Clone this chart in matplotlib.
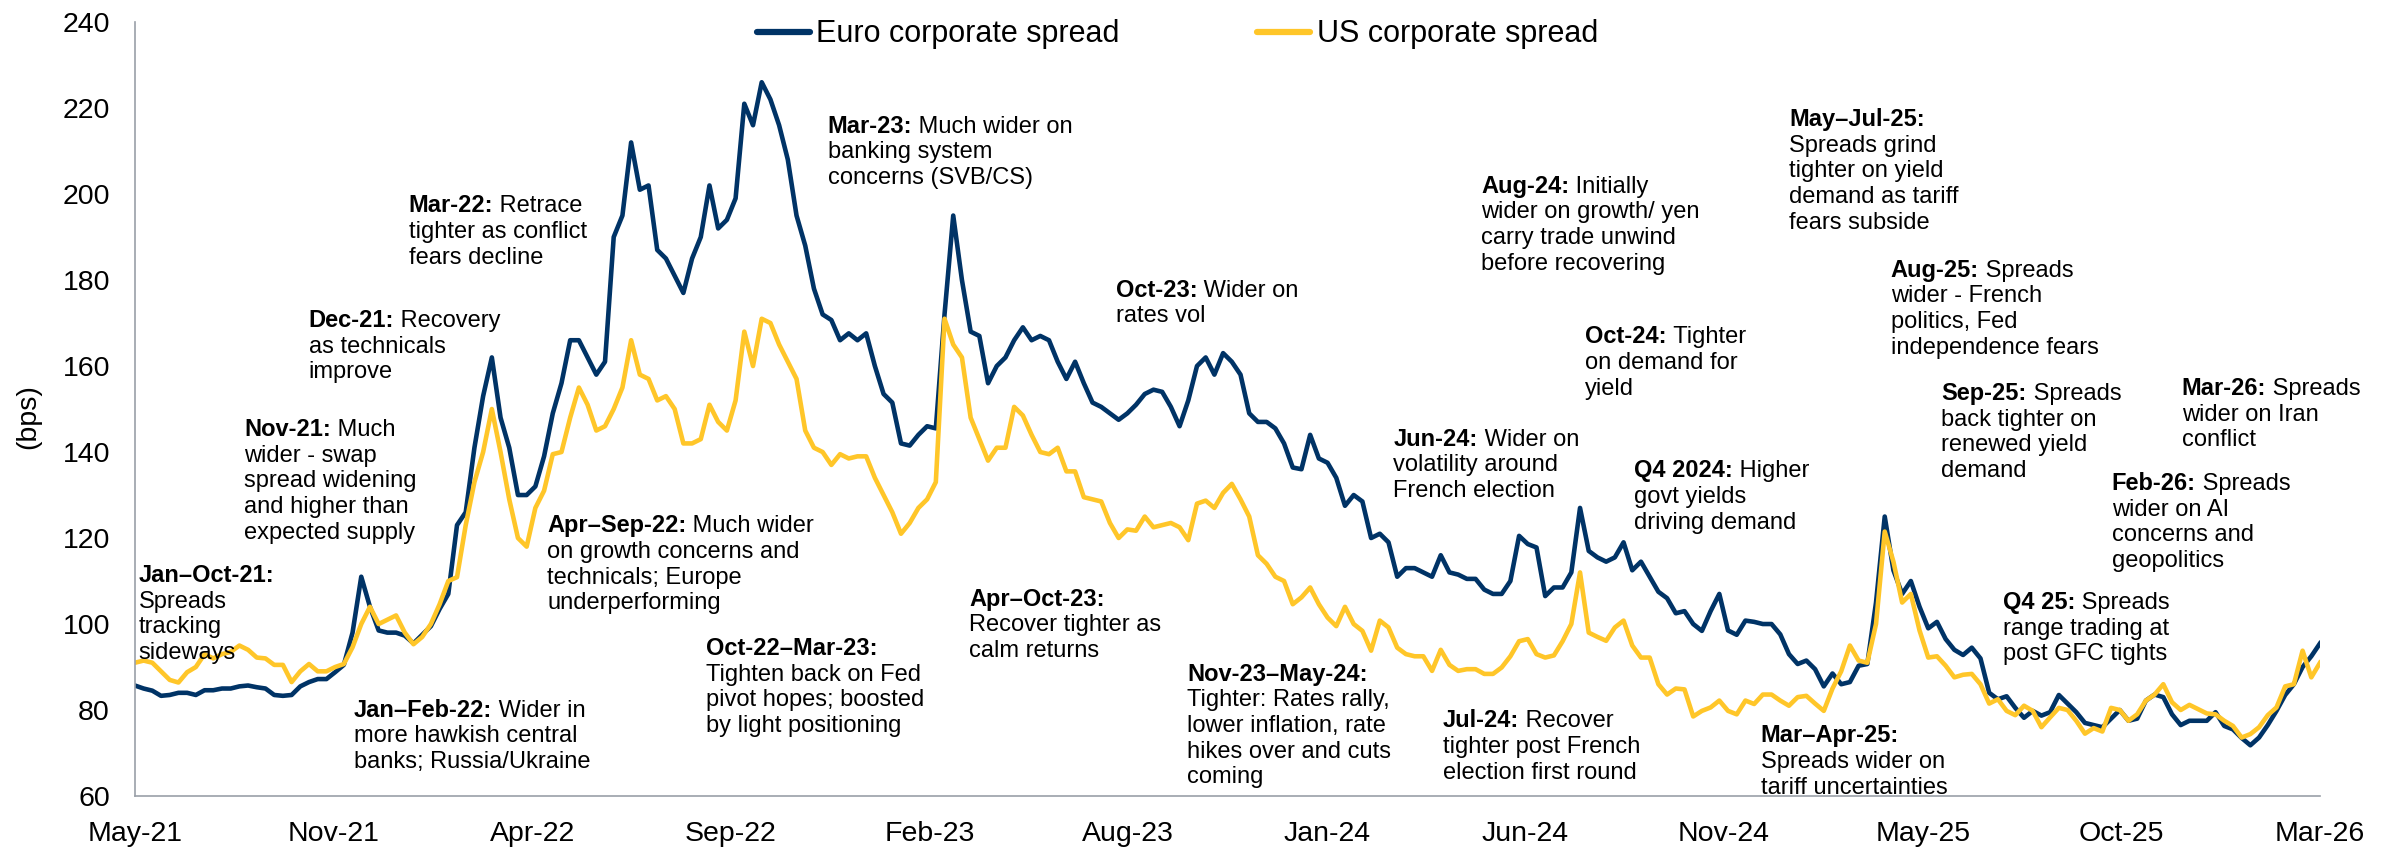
import numpy as np
import pandas as pd
import matplotlib
matplotlib.use("Agg")
import matplotlib.pyplot as plt
import matplotlib.dates as mdates

plt.rcParams["font.family"] = ["Liberation Sans", "DejaVu Sans"]


# Weekly spread readings (bps)
dates = pd.date_range("2021-05-28", periods=252, freq="7D")

euro_spread = [
    85.7, 85, 84.5, 83.3, 83.5, 84, 84, 83.5, 84.6, 84.6,
    85, 85, 85.5, 85.7, 85.3, 85, 83.5, 83.3, 83.5, 85.5,
    86.5, 87.2, 87.2, 88.8, 90.5, 98, 111, 104, 98.5, 98,
    98, 97.3, 95.5, 97.5, 99.5, 103.5, 107, 123, 126, 141,
    153, 162, 148, 141, 130, 130, 132, 139, 149, 156,
    166, 166, 162, 158, 161, 190, 195, 212, 201, 202,
    187, 185, 181, 177, 185, 190, 202, 192, 194, 199,
    221, 216, 226, 222, 216, 208, 195, 188, 178, 172,
    170.7, 166, 167.6, 166, 167.6, 160, 153.5, 151.5, 142, 141.5,
    144, 146, 145.5, 172, 195, 180, 168, 167, 156, 160,
    162, 166, 169, 166, 167, 166, 161, 157, 161, 156,
    151.5, 150.5, 149, 147.5, 149, 151, 153.5, 154.5, 154, 150.5,
    146, 152, 160, 162, 158, 163, 161, 158, 149, 147,
    147, 145.5, 142, 136.4, 136, 144, 138.5, 137.5, 134, 127.5,
    130, 128.5, 120, 121, 119, 111, 113, 113, 112, 111,
    116, 112, 111.5, 110.5, 110.5, 108, 107, 107, 110, 120.5,
    118.6, 117.8, 106.5, 108.5, 108.5, 112, 127, 117, 115.5, 114.5,
    115.5, 119, 112.5, 114.5, 111, 107.5, 106, 102.5, 103, 100,
    98.4, 103, 107, 98.5, 97.5, 100.8, 100.5, 100, 100, 97.6,
    93, 90.7, 91.5, 89.5, 85.5, 88.5, 86, 86.5, 90.3, 90.7,
    105, 125, 112.5, 107, 110, 104, 99, 100.5, 96.5, 94,
    92.8, 94.5, 92, 84, 82.5, 83.2, 80.5, 78.2, 79.8, 78.7,
    79.5, 83.5, 81.5, 79.5, 77, 76.5, 76, 78, 80, 77.5,
    78, 82.2, 83.6, 83, 79, 76.5, 77.5, 77.5, 77.5, 79.5,
    76.3, 75.5, 73.5, 71.8, 73.6, 76.5, 79.8, 83.5, 86, 90,
    92.5, 95.5,
]

us_spread = [
    91, 91.5, 91, 89, 87, 86.4, 88.8, 90, 93, 92,
    93, 93.5, 95, 94, 92.2, 92, 90.5, 90.5, 86.5, 89,
    90.7, 89, 89, 90, 90.7, 94.6, 100, 104, 100, 101,
    102, 98, 95.3, 97, 100, 104.6, 110, 110.9, 123, 133,
    140, 150, 140, 129, 120, 118, 127, 131, 139.5, 140,
    148, 155, 151, 145, 146, 150, 155, 166, 158, 157,
    152, 153, 150, 142, 142, 143, 151, 147, 145, 152,
    168, 160, 171, 170, 165, 161, 157, 145, 141, 140,
    137, 139.5, 138.5, 139, 139, 134, 130, 126, 121, 123.5,
    127, 129, 133, 171, 165, 162, 148, 143, 138, 141,
    141, 150.5, 148.5, 144, 140, 139.5, 141, 135.5, 135.5, 129.5,
    129, 128.5, 123.5, 120, 122, 121.7, 125, 122.5, 123, 123.5,
    122.5, 119.5, 128, 128.7, 127, 130.5, 132.6, 129, 125, 116,
    114, 111, 110, 104.6, 106.2, 108.5, 104.6, 101.5, 99.5, 104,
    100, 98.4, 93.8, 100.8, 99.2, 94.5, 93, 92.5, 92.5, 89.1,
    94, 90.5, 89.1, 89.5, 89.5, 88.4, 88.4, 89.9, 92.5, 96,
    96.5, 93, 92.2, 92.7, 96, 100, 112, 98, 97, 96.1,
    99.2, 100.8, 95, 92.2, 92.2, 86, 83.6, 85, 84.8, 78.5,
    79.8, 80.6, 82.2, 79.8, 79, 82.2, 81.4, 83.6, 83.6, 82.2,
    81, 83, 83.3, 81.5, 79.8, 85, 89, 95, 91.5, 91,
    100, 121.5, 114.5, 105, 107, 98.5, 92.2, 92.5, 90.3, 87.6,
    88.2, 88.4, 86, 81.5, 82.5, 79.8, 78.8, 81, 79.8, 76,
    78.3, 80.5, 80, 77.5, 74.5, 75.8, 75, 80.5, 80, 77.5,
    79, 82.2, 83.6, 86, 81.8, 80, 81.2, 80.2, 79.2, 79,
    77.5, 76.3, 73.6, 74.4, 76, 78.8, 80.6, 85.5, 86, 93.8,
    87.6, 91,
]

tick_labels = ["May-21", "Nov-21", "Apr-22", "Sep-22", "Feb-23", "Aug-23",
               "Jan-24", "Jun-24", "Nov-24", "May-25", "Oct-25", "Mar-26"]

# bold lead-in, rest of first line, further lines
notes = [
    ("Jan–Oct-21:", "", ["Spreads", "tracking", "sideways"]),
    ("Nov-21:", " Much", ["wider - swap", "spread widening", "and higher than",
                          "expected supply"]),
    ("Dec-21:", " Recovery", ["as technicals", "improve"]),
    ("Mar-22:", " Retrace", ["tighter as conflict", "fears decline"]),
    ("Apr–Sep-22:", " Much wider", ["on growth concerns and",
                                    "technicals; Europe", "underperforming"]),
    ("Jan–Feb-22:", " Wider in", ["more hawkish central",
                                  "banks; Russia/Ukraine"]),
    ("Oct-22–Mar-23:", "", ["Tighten back on Fed", "pivot hopes; boosted",
                            "by light positioning"]),
    ("Mar-23:", " Much wider on", ["banking system", "concerns (SVB/CS)"]),
    ("Apr–Oct-23:", "", ["Recover tighter as", "calm returns"]),
    ("Oct-23:", " Wider on", ["rates vol"]),
    ("Nov-23–May-24:", "", ["Tighter: Rates rally,", "lower inflation, rate",
                            "hikes over and cuts", "coming"]),
    ("Jun-24:", " Wider on", ["volatility around", "French election"]),
    ("Aug-24:", " Initially", ["wider on growth/ yen", "carry trade unwind",
                               "before recovering"]),
    ("Oct-24:", " Tighter", ["on demand for", "yield"]),
    ("Jul-24:", " Recover", ["tighter post French", "election first round"]),
    ("Q4 2024:", " Higher", ["govt yields", "driving demand"]),
    ("Mar–Apr-25:", "", ["Spreads wider on", "tariff uncertainties"]),
    ("May–Jul-25:", "", ["Spreads grind", "tighter on yield",
                         "demand as tariff", "fears subside"]),
    ("Aug-25:", " Spreads", ["wider - French", "politics, Fed",
                             "independence fears"]),
    ("Sep-25:", " Spreads", ["back tighter on", "renewed yield", "demand"]),
    ("Mar-26:", " Spreads", ["wider on Iran", "conflict"]),
    ("Feb-26:", " Spreads", ["wider on AI", "concerns and", "geopolitics"]),
    ("Q4 25:", " Spreads", ["range trading at", "post GFC tights"]),
]

# first-line baseline of each note, in axes fractions
note_pos = [
    (0.0016, 0.2765), (0.0499, 0.4651), (0.0796, 0.6059), (0.1253, 0.7541),
    (0.1887, 0.3407), (0.1002, 0.1025), (0.2615, 0.1822), (0.3170, 0.8570),
    (0.3818, 0.2459), (0.4489, 0.6451), (0.4817, 0.1490), (0.5759, 0.4526),
    (0.6162, 0.7795), (0.6638, 0.5849), (0.5986, 0.0888), (0.6862, 0.4118),
    (0.7440, 0.0694), (0.7570, 0.8656), (0.8035, 0.6709), (0.8267, 0.5116),
    (0.9367, 0.5181), (0.9046, 0.3953), (0.8547, 0.2416),
]

navy = "#003366"
gold = "#FFC629"
note_size = 17
line_step = 18.5  # points between baselines

fig = plt.figure(figsize=(23.92, 8.48), dpi=100)
ax = fig.add_axes([0.0564, 0.0613, 0.9135, 0.9127])

ax.plot(dates, euro_spread, color=navy, lw=3.3, solid_joinstyle="round",
        label="Euro corporate spread")
ax.plot(dates, us_spread, color=gold, lw=3.3, solid_joinstyle="round",
        label="US corporate spread")

ax.set_ylim(60, 240)
ax.set_yticks(range(60, 241, 20))
ax.set_xlim(dates[0], dates[-1])
x0, x1 = mdates.date2num(dates[0]), mdates.date2num(dates[-1])
ax.set_xticks(np.linspace(x0, x1, len(tick_labels)))
ax.set_xticklabels(tick_labels)
ax.tick_params(axis="both", length=0, labelsize=20.5, pad=18)

for side in ["top", "right"]:
    ax.spines[side].set_visible(False)
for side in ["left", "bottom"]:
    ax.spines[side].set_color("#9aa0a8")
    ax.spines[side].set_linewidth(1.2)

ax.set_ylabel("(bps)", fontsize=20.5)
ax.yaxis.set_label_coords(-0.043, 0.49)

leg = ax.legend(loc="center", bbox_to_anchor=(0.477, 0.984), ncol=2,
                frameon=False, fontsize=22, handlelength=1.75,
                handletextpad=0.2, columnspacing=4.5, borderpad=0)
for h in leg.get_lines():
    h.set_linewidth(4.5)
    h.set_solid_capstyle("round")

# event notes: bold lead-in followed by plain text
for (head, tail, rest), (fx, fy) in zip(notes, note_pos):
    lead = ax.annotate(head, (fx, fy), xycoords="axes fraction",
                       fontsize=note_size, fontweight="bold",
                       ha="left", va="baseline")
    if tail:
        ax.annotate(tail, (1, 0), xycoords=lead, fontsize=note_size,
                    ha="left", va="bottom")
    for i, line in enumerate(rest, start=1):
        ax.annotate(line, (fx, fy), xycoords="axes fraction",
                    xytext=(0, -i * line_step), textcoords="offset points",
                    fontsize=note_size, ha="left", va="baseline")

fig.savefig("out.png", dpi=100)
